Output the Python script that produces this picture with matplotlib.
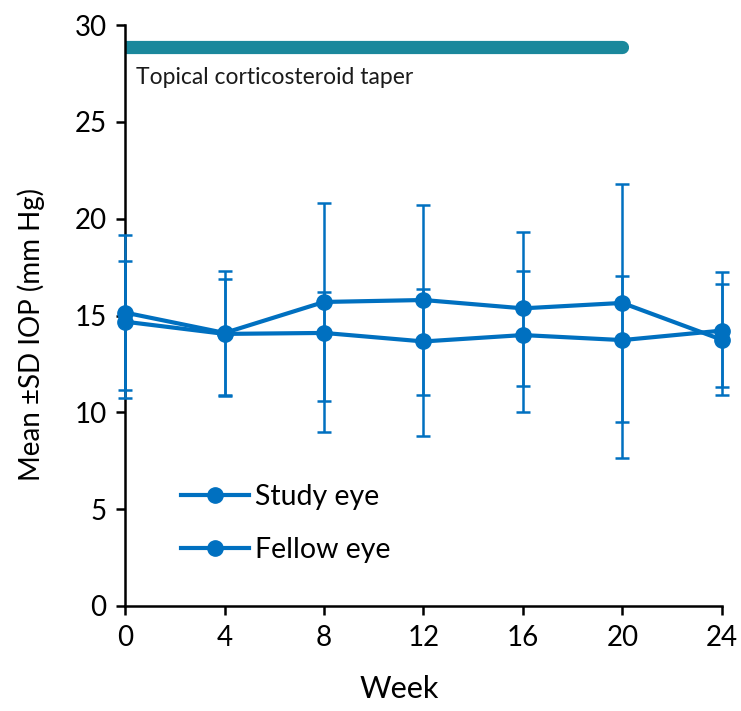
import numpy as np
import matplotlib.pyplot as plt
from matplotlib.lines import Line2D

plt.rcParams['font.family'] = ['Lato', 'DejaVu Sans']

# data
weeks = [0, 4, 8, 12, 16, 20, 24]

study_mean = [15.15, 14.1, 15.7, 15.8, 15.37, 15.65, 13.75]
study_hi = [19.15, 17.31, 20.79, 20.70, 19.32, 21.79, 16.61]
study_lo = [11.15, 10.84, 10.60, 10.89, 11.37, 9.52, 10.89]

fellow_mean = [14.68, 14.05, 14.1, 13.66, 13.99, 13.73, 14.22]
fellow_hi = [17.83, 16.87, 16.23, 16.36, 17.30, 17.04, 17.26]
fellow_lo = [10.72, 10.90, 9.00, 8.78, 10.03, 7.63, 11.32]

taper_weeks = [0, 20]
taper_level = 28.86

blue = '#0070c0'
teal = '#1a889c'

fig = plt.figure(figsize=(7.41, 7.11), dpi=100)
ax = fig.add_axes([0.169, 0.1477, 0.805, 0.8171])

handles = []
for mean, hi, lo, lab in [(study_mean, study_hi, study_lo, 'Study eye'),
                          (fellow_mean, fellow_hi, fellow_lo, 'Fellow eye')]:
    mean = np.array(mean)
    yerr = [mean - np.array(lo), np.array(hi) - mean]
    ax.errorbar(weeks, mean, yerr=yerr, color=blue, lw=3, marker='o', ms=11,
                elinewidth=1.8, capsize=5, capthick=1.8, clip_on=False, zorder=3)
    handles.append(Line2D([], [], color=blue, lw=3, marker='o', ms=11, label=lab))

ax.plot(taper_weeks, [taper_level, taper_level], color=teal, lw=9.5,
        solid_capstyle='round', zorder=2)
ax.text(0.45, 27.3, 'Topical corticosteroid taper', fontsize=16.5, color='#1a1a1a',
        va='center', ha='left')

ax.set_xlim(0, 24)
ax.set_ylim(0, 30)
ax.set_xticks(weeks)
ax.set_yticks(range(0, 31, 5))
for s in ['top', 'right']:
    ax.spines[s].set_visible(False)
for s in ['left', 'bottom']:
    ax.spines[s].set_linewidth(1.8)
ax.tick_params(width=1.8, length=6.5, labelsize=20, pad=7)

ax.set_xlabel('Week', fontsize=22)
ax.set_ylabel('Mean \u00b1SD IOP (mm Hg)', fontsize=20)
ax.xaxis.set_label_coords(0.459, -0.118)
ax.yaxis.set_label_coords(-0.135, 0.468)

ax.legend(handles=handles, loc='lower left', bbox_to_anchor=(0.05, 0.03),
          frameon=False, fontsize=20.5, numpoints=1, handlelength=2.4,
          labelspacing=0.95, handletextpad=0.2)

fig.savefig('out.png', dpi=100)
